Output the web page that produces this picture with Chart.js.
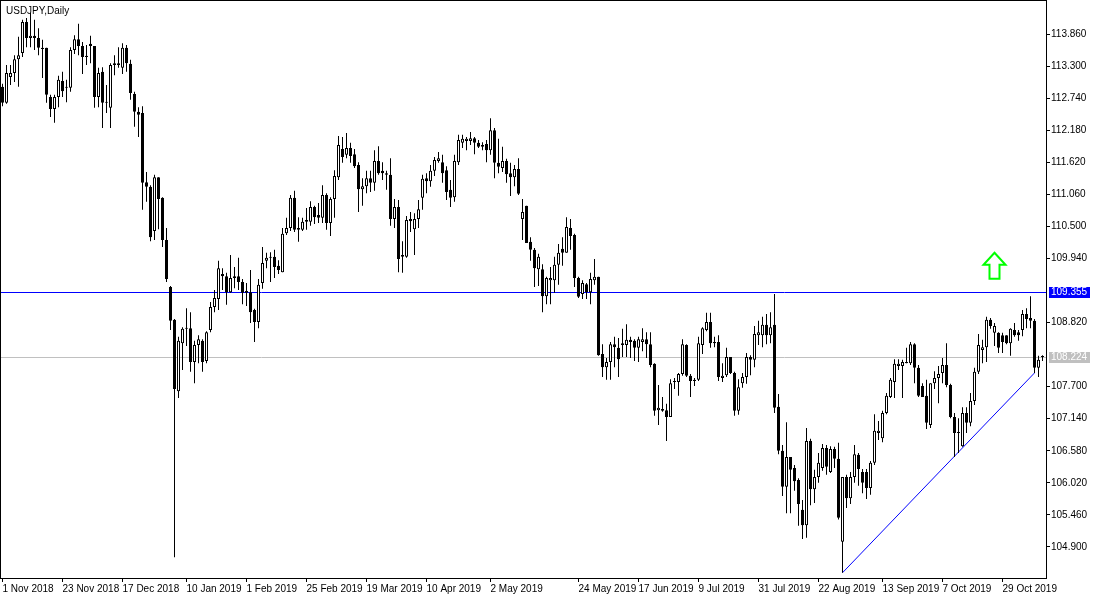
<!DOCTYPE html>
<html>
<head>
<meta charset="utf-8">
<title>USDJPY,Daily</title>
<script src="https://cdn.jsdelivr.net/npm/chart.js@4.4.0/dist/chart.umd.min.js"></script>
<style>
body { margin: 0; background: #ffffff; }
#wrap { width: 1100px; height: 600px; }
</style>
</head>
<body>
<div id="wrap"><canvas id="chart1" width="1100" height="600"></canvas></div>
<script>
var symbolTitle = 'USDJPY,Daily';

// daily bars, oldest first (1 Nov 2018 ... early Nov 2019)
var openP = [
    112.94, 112.66, 113.11, 113.18, 113.42, 113.53, 114.07, 113.79, 113.83, 113.79,
    113.62, 113.62, 112.76, 112.55, 112.76, 113.04, 112.94, 112.92, 113.58, 113.77,
    113.65, 113.48, 113.69, 113.65, 112.76, 113.20, 112.67, 112.57, 113.32, 113.35,
    113.27, 113.62, 113.34, 112.81, 112.50, 112.48, 111.27, 111.19, 110.42, 111.36,
    111.00, 110.26, 109.44, 108.87, 107.62, 108.46, 108.72, 108.72, 108.13, 108.43,
    108.50, 108.15, 108.69, 109.09, 109.23, 109.67, 109.63, 109.35, 109.63, 109.63,
    109.53, 109.34, 109.35, 109.04, 108.83, 109.51, 109.90, 109.95, 109.97, 109.81,
    109.70, 110.38, 110.47, 111.00, 110.47, 110.44, 110.58, 110.58, 110.84, 110.70,
    110.65, 111.05, 110.56, 110.98, 111.36, 111.85, 111.75, 111.87, 111.76, 111.57,
    111.15, 111.20, 111.34, 111.26, 111.64, 111.47, 111.43, 111.40, 110.63, 110.84,
    110.00, 109.97, 110.63, 110.45, 110.63, 111.00, 111.34, 111.29, 111.47, 111.64,
    111.62, 111.48, 111.14, 111.01, 111.62, 111.96, 111.99, 111.99, 112.04, 111.96,
    111.92, 111.94, 111.83, 112.18, 111.61, 111.52, 111.64, 111.43, 111.36, 111.50,
    110.63, 110.86, 110.23, 110.09, 109.75, 109.75, 109.28, 109.56, 109.56, 109.83,
    110.11, 110.04, 110.47, 110.35, 109.60, 109.32, 109.49, 109.35, 109.56, 109.62,
    108.27, 108.04, 108.13, 108.44, 108.38, 108.43, 108.43, 108.52, 108.50, 108.38,
    108.48, 108.53, 108.44, 108.10, 107.29, 107.31, 107.29, 107.17, 107.78, 107.78,
    107.92, 108.43, 107.89, 107.80, 107.82, 108.43, 108.69, 108.83, 108.48, 108.48,
    107.85, 107.90, 108.22, 107.94, 107.28, 107.76, 107.87, 108.22, 108.17, 108.60,
    108.60, 108.78, 108.60, 108.78, 107.35, 106.58, 105.95, 106.47, 106.28, 106.07,
    105.55, 105.28, 106.75, 105.91, 106.12, 106.28, 106.63, 106.21, 106.61, 106.44,
    104.99, 106.12, 105.75, 106.12, 106.51, 106.21, 106.21, 105.93, 106.37, 106.89,
    106.80, 107.24, 107.52, 107.78, 108.06, 108.06, 108.11, 108.11, 108.44, 108.03,
    107.71, 107.54, 107.03, 107.76, 107.85, 107.94, 108.08, 107.73, 107.17, 106.91,
    106.66, 107.24, 107.07, 107.45, 107.96, 108.34, 108.39, 108.87, 108.64, 108.64,
    108.60, 108.60, 108.46, 108.69, 108.65, 108.69, 108.97, 108.90, 108.85, 108.03,
    108.22
];
var highP = [
    112.99, 113.32, 113.32, 113.49, 113.81, 114.11, 114.14, 114.23, 114.11, 113.96,
    113.76, 113.62, 112.80, 112.80, 113.13, 113.20, 113.06, 113.63, 113.84, 114.04,
    113.72, 113.67, 113.83, 113.65, 113.27, 113.28, 112.97, 113.35, 113.49, 113.63,
    113.70, 113.67, 113.41, 112.85, 112.58, 112.60, 111.45, 111.22, 111.40, 111.36,
    111.01, 110.47, 109.46, 108.88, 108.57, 108.74, 109.07, 109.00, 108.50, 108.60,
    108.53, 108.67, 109.18, 109.39, 109.90, 109.77, 109.69, 110.00, 109.79, 109.95,
    109.58, 109.51, 109.74, 109.06, 109.58, 110.14, 110.04, 110.05, 110.09, 109.91,
    110.47, 110.65, 111.05, 111.12, 110.66, 110.65, 110.82, 110.94, 110.86, 110.91,
    111.22, 111.08, 111.01, 111.48, 112.08, 112.06, 112.13, 111.96, 111.85, 111.62,
    111.34, 111.47, 111.47, 111.83, 111.90, 111.62, 111.47, 111.69, 110.98, 110.96,
    110.24, 110.68, 110.75, 110.73, 110.96, 111.40, 111.43, 111.57, 111.71, 111.80,
    111.75, 111.55, 111.31, 111.75, 112.10, 112.10, 112.06, 112.15, 112.06, 112.01,
    111.97, 112.01, 112.39, 112.22, 112.03, 111.89, 111.68, 111.61, 111.57, 111.69,
    110.98, 110.86, 110.31, 110.12, 110.02, 109.84, 109.62, 109.79, 109.97, 110.19,
    110.31, 110.66, 110.63, 110.37, 109.62, 109.56, 109.51, 109.69, 109.93, 109.62,
    108.44, 108.20, 108.48, 108.57, 108.55, 108.71, 108.79, 108.57, 108.53, 108.57,
    108.72, 108.65, 108.65, 108.11, 107.73, 107.52, 107.40, 107.83, 107.85, 107.94,
    108.53, 108.44, 107.92, 107.85, 108.57, 108.74, 108.99, 108.99, 108.57, 108.60,
    108.11, 108.38, 108.22, 107.96, 107.83, 107.94, 108.29, 108.25, 108.76, 108.85,
    108.92, 108.97, 109.00, 109.32, 107.57, 106.68, 107.08, 106.47, 106.33, 106.10,
    105.72, 106.98, 106.79, 106.25, 106.54, 106.70, 106.68, 106.66, 106.65, 106.72,
    106.12, 106.16, 106.21, 106.68, 106.54, 106.26, 106.26, 106.40, 107.22, 107.10,
    107.28, 107.59, 107.85, 108.18, 108.18, 108.17, 108.38, 108.48, 108.46, 108.08,
    107.76, 107.82, 107.76, 107.97, 108.06, 108.20, 108.46, 107.75, 107.24, 107.15,
    107.34, 107.34, 107.59, 108.03, 108.62, 108.52, 108.92, 108.90, 108.81, 108.65,
    108.64, 108.60, 108.72, 108.81, 108.69, 109.04, 109.07, 109.28, 108.88, 108.24,
    108.25
];
var lowP = [
    112.60, 112.64, 112.97, 113.02, 112.94, 113.46, 113.63, 113.63, 113.58, 113.49,
    113.09, 112.66, 112.41, 112.31, 112.58, 112.76, 112.67, 112.85, 113.51, 113.49,
    113.16, 113.32, 113.35, 112.57, 112.58, 112.22, 112.48, 112.22, 113.14, 113.27,
    113.16, 113.20, 112.71, 112.24, 112.06, 110.79, 110.93, 110.24, 110.26, 110.45,
    110.14, 109.53, 108.69, 104.72, 107.50, 107.99, 108.41, 107.96, 107.76, 108.11,
    107.96, 108.11, 108.65, 109.00, 109.04, 109.39, 109.13, 109.34, 109.42, 109.39,
    109.14, 109.11, 108.81, 108.48, 108.72, 109.41, 109.77, 109.53, 109.60, 109.67,
    109.70, 110.35, 110.42, 110.40, 110.23, 110.42, 110.44, 110.51, 110.54, 110.56,
    110.56, 110.44, 110.33, 110.65, 111.31, 111.61, 111.69, 111.61, 111.52, 110.75,
    110.86, 111.08, 111.10, 111.12, 111.40, 111.31, 111.14, 110.51, 110.47, 109.70,
    109.69, 109.95, 110.40, 110.00, 110.47, 110.79, 111.08, 111.19, 111.38, 111.61,
    111.26, 110.96, 110.84, 110.93, 111.57, 111.87, 111.83, 111.92, 111.76, 111.87,
    111.83, 111.62, 111.75, 111.34, 111.43, 111.45, 111.26, 111.03, 111.20, 111.05,
    110.26, 110.21, 109.90, 109.44, 109.46, 109.00, 109.14, 109.14, 109.34, 109.48,
    109.81, 110.04, 110.09, 109.44, 109.25, 109.23, 109.23, 109.14, 109.48, 108.24,
    107.87, 107.82, 107.82, 108.04, 107.87, 108.22, 108.22, 108.20, 108.15, 108.13,
    108.32, 108.20, 108.04, 107.19, 107.03, 107.26, 106.75, 107.17, 107.66, 107.54,
    107.89, 107.87, 107.52, 107.71, 107.80, 108.27, 108.67, 108.38, 108.39, 107.80,
    107.78, 107.87, 107.92, 107.19, 107.21, 107.68, 107.75, 107.90, 108.04, 108.43,
    108.39, 108.44, 108.46, 107.24, 106.52, 105.79, 105.49, 105.49, 105.88, 105.27,
    105.04, 105.06, 105.63, 105.67, 106.02, 106.23, 106.16, 106.19, 106.28, 105.38,
    104.45, 105.58, 105.65, 106.02, 105.97, 105.84, 105.74, 105.81, 106.33, 106.77,
    106.73, 107.22, 107.50, 107.50, 107.99, 107.50, 108.11, 108.08, 107.76, 107.52,
    107.52, 106.96, 106.98, 107.66, 107.41, 107.76, 107.69, 107.15, 106.47, 106.54,
    106.65, 106.89, 107.01, 107.38, 107.92, 108.11, 108.13, 108.71, 108.41, 108.29,
    108.29, 108.44, 108.24, 108.57, 108.50, 108.58, 108.72, 108.72, 107.94, 107.87,
    108.15
];
var closeP = [
    112.66, 113.18, 113.18, 113.42, 113.49, 114.07, 113.79, 113.83, 113.79, 113.62,
    113.60, 112.80, 112.55, 112.76, 113.06, 112.86, 112.92, 113.58, 113.77, 113.65,
    113.46, 113.46, 113.65, 112.76, 113.18, 112.66, 112.66, 113.32, 113.35, 113.32,
    113.62, 113.35, 112.83, 112.50, 112.45, 111.26, 111.19, 110.31, 111.36, 110.98,
    110.26, 109.58, 108.85, 107.66, 108.50, 108.71, 108.71, 108.13, 108.43, 108.53,
    108.13, 108.65, 109.09, 109.25, 109.77, 109.63, 109.35, 109.60, 109.60, 109.53,
    109.34, 109.37, 109.00, 108.83, 109.48, 109.86, 109.95, 109.97, 109.79, 109.74,
    110.37, 110.47, 111.00, 110.44, 110.44, 110.58, 110.61, 110.84, 110.66, 110.65,
    111.05, 110.56, 110.98, 111.38, 111.92, 111.71, 111.87, 111.73, 111.55, 111.15,
    111.20, 111.34, 111.26, 111.64, 111.43, 111.43, 111.40, 110.63, 110.84, 109.93,
    109.97, 110.61, 110.59, 110.63, 110.80, 111.33, 111.29, 111.47, 111.66, 111.69,
    111.43, 111.10, 111.00, 111.64, 112.01, 112.03, 112.03, 112.04, 111.96, 111.89,
    111.89, 111.83, 112.18, 111.61, 111.54, 111.64, 111.41, 111.36, 111.50, 111.07,
    110.75, 110.21, 110.09, 109.77, 109.97, 109.28, 109.60, 109.60, 109.83, 110.04,
    110.04, 110.49, 110.33, 109.60, 109.27, 109.51, 109.35, 109.58, 109.62, 108.25,
    108.04, 108.13, 108.44, 108.39, 108.18, 108.46, 108.52, 108.48, 108.38, 108.53,
    108.53, 108.44, 108.08, 107.28, 107.33, 107.28, 107.17, 107.76, 107.80, 107.92,
    108.44, 107.89, 107.80, 107.82, 108.46, 108.72, 108.83, 108.46, 108.46, 107.87,
    107.89, 108.22, 107.94, 107.28, 107.69, 107.87, 108.22, 108.17, 108.62, 108.65,
    108.78, 108.60, 108.74, 107.33, 106.58, 105.95, 106.47, 106.25, 106.05, 105.65,
    105.28, 106.75, 105.91, 106.12, 106.37, 106.63, 106.30, 106.61, 106.44, 105.41,
    106.12, 105.75, 106.12, 106.52, 106.26, 106.02, 105.93, 106.37, 106.93, 106.93,
    107.24, 107.54, 107.82, 108.10, 108.10, 108.13, 108.13, 108.44, 108.03, 107.54,
    107.52, 107.07, 107.76, 107.85, 107.92, 108.08, 107.73, 107.17, 106.89, 106.89,
    107.24, 107.07, 107.45, 107.96, 108.43, 108.39, 108.87, 108.76, 108.76, 108.38,
    108.48, 108.46, 108.71, 108.60, 108.60, 108.97, 108.88, 108.85, 108.03, 108.17,
    108.22
];

// bottom axis: bar number of each date label
var xTickIdx = [0, 15, 30, 46, 61, 76, 91, 106, 122, 144, 159, 174, 189, 204, 220, 235, 250];
var xTickText = ['1 Nov 2018', '23 Nov 2018', '17 Dec 2018', '10 Jan 2019', '1 Feb 2019',
    '25 Feb 2019', '19 Mar 2019', '10 Apr 2019', '2 May 2019', '24 May 2019', '17 Jun 2019',
    '9 Jul 2019', '31 Jul 2019', '22 Aug 2019', '13 Sep 2019', '7 Oct 2019', '29 Oct 2019'];
var yTicks = [104.90, 105.46, 106.02, 106.58, 107.14, 107.70, 108.82, 109.94,
    110.50, 111.06, 111.62, 112.18, 112.74, 113.30, 113.86];

var levelLine = 109.355;
var bidLine = 108.224;
var trendX = [210, 258];
var trendY = [104.45, 107.94];
var arrowAt = [248, 110.04];

var wicks = [];
var bodies = [];
var bodyFill = [];
for (var i = 0; i < openP.length; i++) {
    wicks.push({ x: i, y: [lowP[i], highP[i]] });
    bodies.push({ x: i, y: [Math.min(openP[i], closeP[i]), Math.max(openP[i], closeP[i])] });
    bodyFill.push(closeP[i] > openP[i] ? '#ffffff' : '#000000');
}
var trend = [];
for (var j = 0; j < trendX.length; j++) {
    trend.push({ x: trendX[j], y: trendY[j] });
}

function hLine(ctx, area, y, color) {
    ctx.save();
    ctx.strokeStyle = color;
    ctx.lineWidth = 1;
    ctx.beginPath();
    ctx.moveTo(area.left, y);
    ctx.lineTo(area.right, y);
    ctx.stroke();
    ctx.restore();
}

function axisTag(ctx, area, y, value, color) {
    ctx.save();
    ctx.fillStyle = color;
    ctx.fillRect(area.right + 3, Math.round(y) - 5, 41, 11);
    ctx.fillStyle = '#ffffff';
    ctx.font = '10px "Liberation Sans"';
    ctx.textBaseline = 'middle';
    ctx.fillText(value.toFixed(3), area.right + 5, Math.round(y) + 0.5);
    ctx.restore();
}

function noPad(axis) {
    axis.paddingTop = 0;
    axis.paddingBottom = 0;
    axis.paddingLeft = 0;
    axis.paddingRight = 0;
}

var mtPlugin = {
    id: 'mtDecor',
    beforeDatasetsDraw: function (chart) {
        var ctx = chart.ctx;
        var area = chart.chartArea;
        var ys = chart.scales.y;
        hLine(ctx, area, Math.round(ys.getPixelForValue(bidLine)) + 0.5, '#c0c0c0');
        hLine(ctx, area, Math.round(ys.getPixelForValue(levelLine)) + 0.5, '#0000ff');
    },
    afterDraw: function (chart) {
        var ctx = chart.ctx;
        var area = chart.chartArea;
        var xs = chart.scales.x;
        var ys = chart.scales.y;

        ctx.save();
        ctx.strokeStyle = '#000000';
        ctx.lineWidth = 1;
        ctx.strokeRect(area.left + 0.5, area.top + 0.5, area.right - area.left, area.bottom - area.top);

        ctx.fillStyle = '#000000';
        ctx.font = '10px "Liberation Sans"';
        ctx.textBaseline = 'alphabetic';
        ctx.fillText(symbolTitle, 6, 13.5);

        // buy arrow object
        var ax = xs.getPixelForValue(arrowAt[0]);
        var ay = ys.getPixelForValue(arrowAt[1]);
        ctx.beginPath();
        ctx.moveTo(ax, ay);
        ctx.lineTo(ax + 11, ay + 12);
        ctx.lineTo(ax + 5, ay + 12);
        ctx.lineTo(ax + 5, ay + 26);
        ctx.lineTo(ax - 5, ay + 26);
        ctx.lineTo(ax - 5, ay + 12);
        ctx.lineTo(ax - 11, ay + 12);
        ctx.closePath();
        ctx.fillStyle = '#ffffff';
        ctx.fill();
        ctx.strokeStyle = '#00ff00';
        ctx.lineWidth = 2;
        ctx.stroke();
        ctx.restore();

        axisTag(ctx, area, ys.getPixelForValue(levelLine), levelLine, '#0000ff');
        axisTag(ctx, area, ys.getPixelForValue(bidLine), bidLine, '#c0c0c0');
    }
};

Chart.defaults.font.family = '"Liberation Sans", sans-serif';
Chart.defaults.font.size = 10;
Chart.defaults.color = '#000000';

var ctx = document.getElementById('chart1').getContext('2d');
var myChart1 = new Chart(ctx, {
    type: 'bar',
    data: {
        datasets: [{
            label: 'body',
            data: bodies,
            order: 0,
            grouped: false,
            backgroundColor: bodyFill,
            borderColor: '#000000',
            borderWidth: 1,
            borderSkipped: false,
            inflateAmount: 0,
            barPercentage: 1,
            categoryPercentage: 1,
            maxBarThickness: 3,
            minBarLength: 1
        }, {
            label: 'wick',
            data: wicks,
            order: 1,
            grouped: false,
            backgroundColor: '#000000',
            borderWidth: 0,
            inflateAmount: 0,
            barPercentage: 1,
            categoryPercentage: 1,
            maxBarThickness: 1
        }, {
            type: 'line',
            label: 'trend',
            data: trend,
            order: 2,
            borderColor: '#0000ff',
            borderWidth: 1,
            pointRadius: 0,
            tension: 0,
            fill: false
        }]
    },
    options: {
        responsive: false,
        devicePixelRatio: 1,
        animation: false,
        events: [],
        layout: { padding: 0 },
        plugins: {
            legend: { display: false },
            tooltip: { enabled: false },
            title: { display: false }
        },
        scales: {
            x: {
                type: 'linear',
                min: -0.625,
                max: 260.875,
                offset: false,
                afterBuildTicks: function (axis) {
                    axis.ticks = xTickIdx.map(function (v) { return { value: v }; });
                },
                afterFit: function (axis) { axis.height = 22; noPad(axis); },
                ticks: {
                    autoSkip: false,
                    maxRotation: 0,
                    minRotation: 0,
                    align: 'start',
                    padding: 1,
                    callback: function (value) {
                        return xTickText[xTickIdx.indexOf(value)];
                    }
                },
                grid: { display: true, drawOnChartArea: false, offset: false, tickLength: 4, color: '#000000' },
                border: { display: false }
            },
            y: {
                type: 'linear',
                position: 'right',
                min: 104.358,
                max: 114.454,
                beginAtZero: false,
                afterBuildTicks: function (axis) {
                    axis.ticks = yTicks.map(function (v) { return { value: v }; });
                },
                afterFit: function (axis) { axis.width = 54; noPad(axis); },
                ticks: {
                    padding: 1,
                    callback: function (value) { return value.toFixed(3); }
                },
                grid: { display: true, drawOnChartArea: false, tickLength: 4, color: '#000000' },
                border: { display: false }
            }
        }
    },
    plugins: [mtPlugin]
});
</script>
</body>
</html>
